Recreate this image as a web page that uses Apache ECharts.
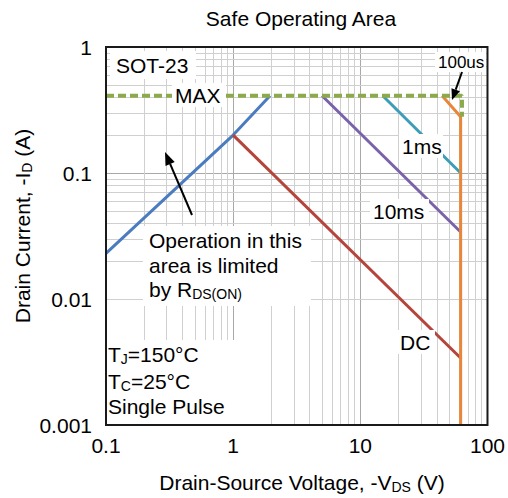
<!DOCTYPE html>
<html><head><meta charset="utf-8">
<script src="https://cdn.jsdelivr.net/npm/echarts@6/dist/echarts.min.js"></script>
<style>html,body{margin:0;padding:0;background:#fff}#c{width:508px;height:498px}</style>
</head><body><div id="c"></div>
<script>
// ---- data ----
const vRds = [0.1, 1, 1.95];   const iRds = [0.023, 0.2, 0.41];
const vDC = [1, 61.5];         const iDC = [0.2, 0.0034];
const v10ms = [5, 61.5];       const i10ms = [0.41, 0.034];
const v1ms = [15, 61.5];       const i1ms = [0.41, 0.1];
const v100us = [44, 61.5, 61.5]; const i100us = [0.41, 0.28, 0.001];
const vMax = [0.1, 63, 63];    const iMax = [0.41, 0.41, 0.28];
const xTickLabels = ['0.1', '1', '10', '100'];
const yTickLabels = ['0.001', '0.01', '0.1', '1'];
const xDecades = [0.1, 1, 10];
const yDecades = [0.001, 0.01, 0.1];
const minorMult = [2, 3, 4, 5, 6, 7, 8, 9];

const FONT = 'Liberation Sans, Arial, sans-serif';
const pts = (xs, ys) => xs.map((x, i) => [x, ys[i]]);

const minorX = [], minorY = [];
xDecades.forEach(d => minorMult.forEach(m => minorX.push({xAxis: +(d * m).toPrecision(3)})));
yDecades.forEach(d => minorMult.forEach(m => minorY.push({yAxis: +(d * m).toPrecision(3)})));

const chart = echarts.init(document.getElementById('c'), null, {renderer: 'svg'});

function lineSeries(name, xs, ys, color, extra) {
  return Object.assign({
    name, type: 'line', data: pts(xs, ys), symbol: 'none', z: 5,
    lineStyle: {color, width: 3}, silent: true, animation: false
  }, extra || {});
}

const rich = {
  n: {fontSize: 21, lineHeight: 24, fontFamily: FONT, color: '#000'},
  s: {fontSize: 14, lineHeight: 14, fontFamily: FONT, color: '#000', verticalAlign: 'bottom'}
};

function txt(x, y, text, opts) {
  opts = opts || {};
  return {
    type: 'text', x, y, z: 20, rotation: opts.rotation || 0,
    style: {
      text, rich, fill: '#000', font: (opts.size || 21) + 'px ' + FONT,
      fontSize: opts.size || 21, fontFamily: FONT,
      textAlign: opts.align || 'left', align: opts.align || 'left',
      textVerticalAlign: 'middle', verticalAlign: 'middle'
    }
  };
}
function box(x, y, w, h) {
  return {type: 'rect', z: 15, shape: {x, y, width: w, height: h}, style: {fill: '#fff'}};
}
function arrow(x1, y1, x2, y2, len, wid) {
  const a = Math.atan2(y2 - y1, x2 - x1);
  const bx = x2 - len * Math.cos(a), by = y2 - len * Math.sin(a);
  const px = -Math.sin(a) * wid / 2, py = Math.cos(a) * wid / 2;
  return [
    {type: 'line', z: 21, shape: {x1, y1, x2: bx, y2: by}, style: {stroke: '#000', lineWidth: 2}},
    {type: 'polygon', z: 21, shape: {points: [[x2, y2], [bx + px, by + py], [bx - px, by - py]]}, style: {fill: '#000'}}
  ];
}

const option = {
  animation: false,
  backgroundColor: '#fff',
  textStyle: {fontFamily: FONT},
  grid: {left: 106, right: 20, top: 47, bottom: 73, show: true, borderColor: '#1a1a1a', borderWidth: 2, backgroundColor: 'transparent', z: 30},
  xAxis: {
    type: 'log', logBase: 10, min: 0.1, max: 100,
    axisLine: {show: false}, axisTick: {show: false},
    axisLabel: {fontSize: 21, color: '#000', fontFamily: FONT, margin: 10,
      formatter: v => xTickLabels[Math.round(Math.log10(v)) + 1]},
    splitLine: {show: true, lineStyle: {color: '#a8a8a8', width: 1}}
  },
  yAxis: {
    type: 'log', logBase: 10, min: 0.001, max: 1,
    axisLine: {show: false}, axisTick: {show: false},
    axisLabel: {fontSize: 21, color: '#000', fontFamily: FONT, margin: 14,
      formatter: v => yTickLabels[Math.round(Math.log10(v)) + 3]},
    splitLine: {show: true, lineStyle: {color: '#a8a8a8', width: 1}}
  },
  series: [
    {type: 'line', data: [], z: 1, silent: true,
      markLine: {silent: true, symbol: 'none', label: {show: false}, animation: false,
        lineStyle: {color: '#d0d0d0', width: 1, type: 'solid'}, data: minorX.concat(minorY)}},
    lineSeries('RDS', vRds, iRds, '#4a7cbf'),
    lineSeries('DC', vDC, iDC, '#b5453b'),
    lineSeries('10ms', v10ms, i10ms, '#7a62aa'),
    lineSeries('1ms', v1ms, i1ms, '#3c9db6'),
    lineSeries('100us', v100us, i100us, '#e8873a'),
    lineSeries('MAX', vMax, iMax, '#8aaa4c', {z: 6, lineStyle: {color: '#8aaa4c', width: 4, type: [8, 4]}})
  ],
  graphic: [
    txt(301, 18, 'Safe Operating Area', {align: 'center', size: 21}),
    txt(22, 226, '{n|Drain Current, -I}{s|D}{n| (A)}', {align: 'center', rotation: Math.PI / 2}),
    txt(302, 482, '{n|Drain-Source Voltage, -V}{s|DS}{n| (V)}', {align: 'center'}),
    box(110, 51, 86, 28), txt(116, 65, 'SOT-23'),
    box(172, 83, 54, 24), txt(175, 95, 'MAX'),
    box(435, 52, 51, 20), txt(438, 62, '100us', {size: 17}),
    box(399, 134, 44, 24), txt(402, 146, '1ms'),
    box(370, 199, 59, 24), txt(373, 211, '10ms'),
    box(397, 330, 38, 24), txt(400, 342, 'DC'),
    box(143, 226, 168, 80),
    txt(149, 240, 'Operation in this'),
    txt(149, 265, 'area is limited'),
    txt(149, 289, '{n|by R}{s|DS(ON)}'),
    box(107, 340, 128, 84),
    txt(108, 354, '{n|T}{s|J}{n|=150°C}'),
    txt(108, 381, '{n|T}{s|C}{n|=25°C}'),
    txt(108, 406, 'Single Pulse'),
    ...arrow(192, 215, 165, 152, 13, 10),
    ...arrow(462, 72, 452, 100, 11, 9)
  ]
};
chart.setOption(option);
</script></body></html>
